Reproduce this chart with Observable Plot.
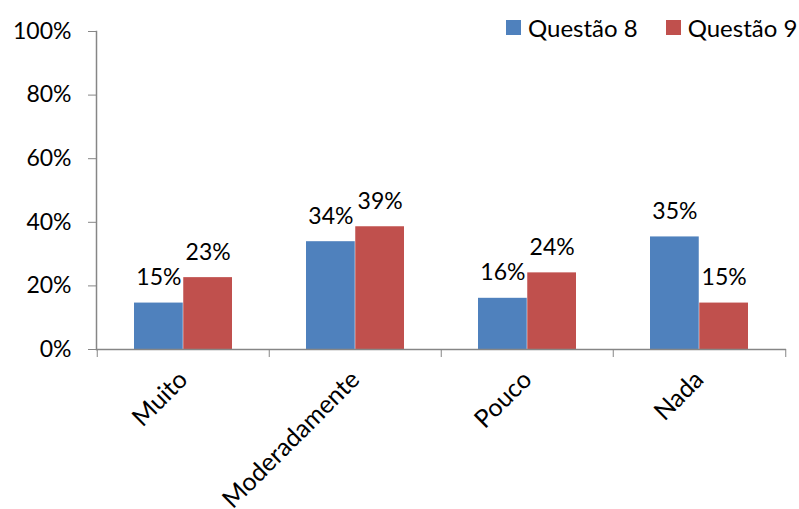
<!DOCTYPE html>
<html>
<head>
<meta charset="utf-8">
<script src="https://cdn.jsdelivr.net/npm/d3@7"></script>
<script src="https://cdn.jsdelivr.net/npm/@observablehq/plot@0.6"></script>
<style>
  html, body { margin: 0; padding: 0; background: #fff; }
  #wrap { position: relative; width: 799px; height: 509px; font-family: Lato, "Open Sans", sans-serif; }
  #legend { position: absolute; top: 13px; left: 506px; display: flex; align-items: center; font-size: 24px; color: #000; white-space: nowrap; }
  .sw { display: inline-block; width: 15px; height: 15px; margin-right: 7px; flex: none; }
  .item { display: flex; align-items: center; margin-right: 28px; white-space: nowrap; }
</style>
</head>
<body>
<div id="wrap"><div id="legend"></div></div>
<script>
const categories = ["Muito", "Moderadamente", "Pouco", "Nada"];
const questao8 = [0.146, 0.339, 0.161, 0.354];
const questao9 = [0.226, 0.386, 0.241, 0.146];
const seriesNames = ["Questão 8", "Questão 9"];
const seriesColors = ["#4F81BD", "#C0504D"];
const yTicks = [0, 0.2, 0.4, 0.6, 0.8, 1];

const W = 799, H = 509;
const mL = 96, mR = 13, mT = 31, mB = 160;
const step = (W - mL - mR) / categories.length;
const gap = 37, barW = (step - 2 * gap) / 2;
const pct = d3.format(".0%");
const axisGray = "#868686";
const fs = 23;

const rows8 = categories.map((c, i) => ({cat: c, v: questao8[i]}));
const rows9 = categories.map((c, i) => ({cat: c, v: questao9[i]}));

const chart = Plot.plot({
  width: W, height: H,
  marginLeft: mL, marginRight: mR, marginTop: mT, marginBottom: mB,
  style: {fontFamily: "Lato, 'Open Sans', sans-serif", fontSize: fs + "px", color: "#000", background: "#fff"},
  x: {domain: categories, padding: 0, axis: null, label: null},
  y: {domain: [0, 1], axis: null, label: null},
  marks: [
    Plot.barY(rows8, {x: "cat", y: "v", fill: seriesColors[0], insetLeft: gap, insetRight: step - gap - barW}),
    Plot.barY(rows9, {x: "cat", y: "v", fill: seriesColors[1], insetLeft: gap + barW, insetRight: gap}),
    Plot.text(rows8, {x: "cat", y: "v", text: d => pct(d.v), dx: -barW / 2, dy: -18, lineAnchor: "bottom", fontSize: fs, fill: "#000"}),
    Plot.text(rows9, {x: "cat", y: "v", text: d => pct(d.v), dx: barW / 2, dy: -18, lineAnchor: "bottom", fontSize: fs, fill: "#000"}),
    Plot.frame({anchor: "left", stroke: axisGray, strokeWidth: 1.5}),
    Plot.ruleY([0], {stroke: axisGray, strokeWidth: 1.5}),
    Plot.axisY({ticks: yTicks, tickFormat: pct, tickSize: 8, tickPadding: 17, stroke: axisGray, fill: "#000", fontSize: fs, label: null}),
    Plot.axisX({ticks: categories, tickSize: 8, text: null, dx: -step / 2, stroke: axisGray, label: null}),
    Plot.axisX({ticks: categories.slice(-1), tickSize: 8, text: null, dx: step / 2, stroke: axisGray, label: null}),
    Plot.axisX({ticks: categories, tickSize: 0, tickRotate: -45, tickPadding: 26, fill: "#000", fontSize: 25, label: null})
  ]
});
document.getElementById("wrap").prepend(chart);

const legend = document.getElementById("legend");
seriesNames.forEach((n, i) => {
  const it = document.createElement("div");
  it.className = "item";
  const sw = document.createElement("span");
  sw.className = "sw";
  sw.style.background = seriesColors[i];
  it.appendChild(sw);
  it.appendChild(document.createTextNode(n));
  legend.appendChild(it);
});
</script>
</body>
</html>
